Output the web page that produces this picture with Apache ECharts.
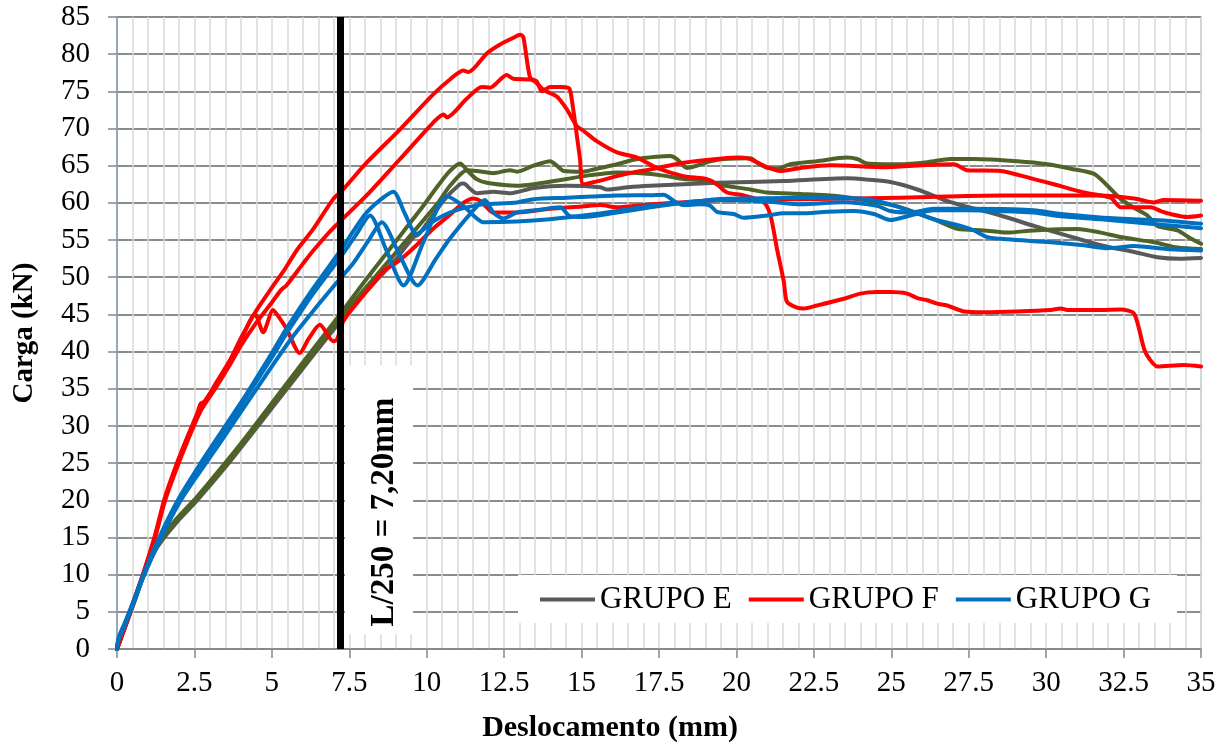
<!DOCTYPE html>
<html>
<head>
<meta charset="utf-8">
<script src="https://cdn.jsdelivr.net/npm/echarts/dist/echarts.min.js"></script>
<style>html,body{margin:0;padding:0;background:#fff}#c{width:1228px;height:748px}</style>
</head>
<body>
<div id="c"></div>
<script>
// ---- data (Deslocamento mm, Carga kN) ----
const grupoE_cinza = [[0,0],[0.3,3.4],[0.6,6.8],[0.85,9.8],[1.2,13],[1.45,14.6],[1.92,17],[2.57,19.9],[3.53,24.6],[4.29,28.6],[5.04,32.6],[5.9,37.2],[7.2,44],[8.0,47.9],[9.0,52.4],[9.57,55.4],[9.75,55.8],[10.0,57.2],[10.54,60.3],[11.07,62.5],[11.2,62.6],[11.4,61.9],[11.61,61.3],[12.15,61.5],[12.69,61.3],[13.45,62.0],[14.52,62.3],[15.6,62.1],[15.82,61.8],[16.5,62.1],[17.22,62.3],[18.3,62.5],[19.37,62.7],[21.53,62.95],[23.57,63.3],[24.3,63.1],[24.97,62.8],[25.84,61.8],[26.91,60.1],[28.53,58.3],[29.61,56.9],[30.68,55.6],[31.76,54.3],[32.84,53.4],[33.59,52.7],[34.3,52.5],[35,52.6]];
const grupoE_verde1 = [[0,0],[0.3,3.5],[0.6,7],[0.85,10],[1.2,13.3],[1.45,15],[1.92,17.5],[2.57,20.4],[3.53,25.2],[4.29,29.2],[5.04,33.3],[5.9,38],[7.2,45],[8.06,49.8],[8.92,54.4],[9.78,59],[10.4,62.5],[10.75,64.3],[11.08,65.3],[11.3,64.4],[11.61,63.2],[11.94,62.7],[12.5,62.4],[12.91,62.3],[13.45,62.5],[14.52,63.2],[15.06,63.6],[16.14,64.1],[17.22,63.9],[17.76,63.6],[18.29,63.2],[19.16,63.0],[19.37,62.5],[20.45,61.8],[20.99,61.4],[22.07,61.2],[23.14,60.95],[24.22,60.3],[25.3,59.4],[26.37,57.8],[27.13,56.5],[27.99,56.3],[28.74,56.0],[29.6,56.3],[31.01,56.5],[31.76,56.0],[32.41,55.4],[33.49,54.7],[34.24,54.0],[35,53.8]];
const grupoE_verde2 = [[0,0],[0.3,3.4],[0.6,6.9],[0.85,9.9],[1.2,13.1],[1.45,14.8],[1.92,17.2],[2.57,20.1],[3.53,24.8],[4.29,28.8],[5.04,32.9],[5.9,37.5],[7.2,44.5],[8.1,48.9],[9.0,53.3],[9.9,57.7],[10.4,60.2],[10.75,62.3],[11.3,64.4],[11.61,64.3],[12.15,64.0],[12.69,64.4],[12.91,64.2],[13.45,65.0],[13.99,65.6],[14.2,65.0],[14.42,64.3],[15.06,64.2],[15.39,64.5],[16.14,65.2],[16.79,65.9],[17.43,66.2],[17.86,66.3],[18.08,65.9],[18.4,64.7],[18.72,65.0],[19.16,65.6],[19.59,65.9],[20.45,66.0],[20.67,65.4],[20.99,64.7],[21.31,64.6],[21.74,65.2],[22.6,65.6],[23.57,66.1],[23.9,65.9],[24.22,65.3],[25.3,65.2],[26.2,65.5],[26.91,65.9],[27.67,65.9],[29.07,65.6],[30.04,65.2],[30.8,64.6],[31.55,63.9],[31.98,62.3],[32.41,60.5],[32.85,59.3],[33.27,58.3],[33.59,56.9],[34.24,56.3],[34.67,55.2],[35,54.5]];
const grupoF_1 = [[0,0],[0.3,3.6],[0.6,7.2],[0.85,10.2],[1.22,15.2],[1.54,20.3],[1.9,24.6],[2.3,28.8],[2.6,31.8],[2.7,33],[2.85,33.3],[3.2,35.8],[3.64,38.8],[4.0,41.8],[4.45,45.2],[5.0,48.6],[5.42,51.1],[5.8,53.6],[6.34,56.5],[6.98,60.5],[7.3,61.8],[8.06,65.4],[9.14,69.9],[10.21,74.6],[10.75,76.6],[11.18,77.8],[11.35,77.6],[11.94,80.1],[12.37,81.3],[12.8,82.2],[13.02,82.6],[13.12,82.3],[13.34,76.8],[13.55,76.35],[13.72,75.0],[13.98,75.6],[14.3,75.6],[14.58,75.45],[14.65,74.8],[14.79,70.8],[14.95,65.9],[15.06,62.5],[15.6,63.0],[16.14,63.6],[16.68,64.1],[17.22,64.5],[18.3,65.4],[19.37,65.9],[20.13,66.1],[20.45,65.9],[20.88,65.0],[21.42,64.3],[22.07,64.7],[23.03,65.06],[24.87,64.8],[26.16,65.1],[27.02,65.2],[27.45,64.4],[28.53,64.3],[29.6,63.2],[30.25,62.5],[31.22,61.4],[32.08,60.7],[32.41,59.4],[33.38,59.4],[33.7,58.9],[34.02,58.5],[34.56,58.1],[35,58.3]];
const grupoF_2 = [[0,0],[0.3,3.5],[0.6,7.0],[0.85,10],[1.22,14.8],[1.54,19.8],[1.9,24.0],[2.3,28.2],[2.7,32],[3.2,35.2],[3.64,38.2],[4.0,40.8],[4.5,43.9],[5.0,46.6],[5.3,48.3],[5.47,48.9],[6.0,51.8],[6.34,53.6],[6.98,56.6],[8.06,61.0],[9.14,65.9],[10.21,70.8],[10.54,71.9],[10.65,71.5],[11.29,74.0],[11.78,75.6],[12.05,75.5],[12.58,77.2],[12.8,76.7],[13.34,76.6],[13.5,76.3],[13.77,75.2],[14.2,74.3],[14.52,72.6],[14.85,70.3],[15.06,69.7],[15.49,68.3],[16.14,66.8],[16.79,66.1],[17.43,64.7],[18.29,63.6],[19.05,63.2],[19.37,62.5],[19.7,61.4],[20.23,61.0],[20.88,60.1],[21.1,58.3],[21.31,53.8],[21.53,49.4],[21.63,46.7],[21.96,45.9],[22.17,45.8],[22.6,46.2],[23.47,47.1],[24.0,47.8],[24.54,48.0],[24.97,48.0],[25.51,47.8],[25.84,47.2],[26.16,46.9],[26.48,46.45],[26.8,46.2],[27.34,45.4],[27.99,45.3],[29.07,45.4],[30.15,45.6],[30.47,45.8],[30.68,45.6],[31.76,45.6],[32.41,45.65],[32.84,45.1],[33.16,40.4],[33.32,39.1],[33.59,38.0],[34.45,38.2],[35,38.0]];
const grupoF_3 = [[0,0],[0.3,3.6],[0.6,7.1],[0.85,10.1],[1.22,15],[1.54,20],[1.9,24.4],[2.3,28.6],[2.7,32.4],[3.2,35.6],[3.64,38.6],[4.0,41.5],[4.3,44.2],[4.45,45.1],[4.72,42.6],[5.04,45.6],[5.2,44.8],[5.47,43.1],[5.9,39.8],[6.2,41.8],[6.55,43.6],[6.98,41.4],[7.1,41.6],[7.31,44.1],[7.8,46.8],[8.3,49.3],[8.6,50.8],[9.1,52.2],[9.67,54.3],[10.2,56.5],[10.75,58.4],[11.18,60.0],[11.51,60.6],[11.72,60.3],[11.94,59.4],[12.15,58.7],[12.91,58.7],[13.98,59.2],[15.0,59.5],[15.6,59.7],[16.14,59.4],[17.22,59.8],[18.3,60.1],[19.37,60.4],[22.07,60.5],[25.3,60.7],[28.53,61.0],[31.76,61.0],[32.84,60.6],[33.48,60.06],[33.8,60.4],[35,60.3]];
const grupoG_1 = [[0,0],[0.05,1.5],[0.3,4],[0.6,7.2],[0.85,10],[1.43,15.6],[2.03,20.5],[2.67,24.8],[3.32,28.9],[4.18,34.3],[5.0,39.8],[5.47,43.1],[6.3,48.3],[7.2,53.5],[8.0,58.4],[8.5,60.4],[8.92,61.5],[9.3,58.5],[9.67,55.8],[10.2,57.5],[10.75,58.7],[11.29,59.4],[11.83,59.8],[12.91,60.06],[13.45,60.5],[14.52,60.7],[16.14,61.0],[17.22,61.04],[17.65,61.1],[17.97,60.3],[18.29,59.7],[18.83,59.8],[19.16,59.6],[19.37,58.8],[19.91,58.5],[20.23,58.0],[20.99,58.3],[21.53,58.6],[22.07,58.6],[22.93,58.8],[23.79,58.9],[24.44,58.5],[24.97,57.7],[25.62,58.3],[26.37,59.0],[27.45,59.0],[28.5,58.9],[29.6,58.7],[30.47,58.2],[31.76,57.8],[32.84,57.4],[33.9,57.0],[35,56.6]];
const grupoG_2 = [[0,0],[0.05,1.3],[0.3,3.8],[0.6,7.0],[0.85,9.8],[1.43,15.3],[2.03,20.2],[2.67,24.4],[3.32,28.4],[4.18,33.9],[5.0,39.2],[5.5,42.6],[6.3,47.6],[7.2,52.6],[7.7,55.6],[8.17,58.3],[8.7,53.6],[9.25,48.9],[9.9,54.8],[10.65,60.9],[11.18,59.6],[11.51,58.3],[11.83,57.4],[12.91,57.5],[13.98,57.8],[15.06,58.3],[16.14,58.9],[17.22,59.6],[18.3,60.0],[19.37,60.5],[20.5,60.6],[22.07,60.7],[23.14,60.7],[24.22,60.5],[24.97,59.8],[25.62,58.9],[26.37,57.8],[27.24,56.9],[27.67,56.3],[28.1,55.4],[28.74,55.1],[30.15,54.7],[31.22,54.3],[31.98,53.9],[32.84,54.2],[33.9,53.8],[35,53.6]];
const grupoG_3 = [[0,0],[0.05,1.2],[0.3,3.7],[0.6,6.9],[0.85,9.7],[1.43,15.0],[2.03,19.8],[2.67,23.8],[3.32,27.7],[4.18,33.0],[5.0,38.0],[5.6,41.6],[6.4,45.8],[7.2,49.8],[7.63,51.9],[8.1,54.8],[8.55,57.4],[9.1,53.2],[9.7,48.9],[10.3,52.5],[10.75,55.2],[11.4,58.5],[11.88,60.4],[12.15,58.7],[12.48,57.9],[12.91,58.7],[13.5,59.0],[14.31,59.4],[14.63,58.2],[15.06,58.1],[16.14,58.7],[17.22,59.4],[18.29,60.0],[19.37,60.4],[21.0,60.2],[22.07,59.8],[23.47,60.1],[24.54,59.6],[24.97,58.9],[25.62,58.7],[26.37,59.2],[27.45,59.2],[29.6,59.0],[30.47,58.5],[31.76,58.05],[32.84,57.8],[33.9,57.6],[35,57.2]];

const legendNames = ['GRUPO E', 'GRUPO F', 'GRUPO G'];
const limiteL250 = 7.2;                 // mm
const limiteTexto = 'L/250 = 7,20mm';
const caixaX = [7.36, 9.56];            // annotation box (data units)
const caixaY = [2.0, 38.15];
const textoPos = [8.62, 18.4];

const FONT = '"Liberation Serif","Times New Roman",serif';
const chart = echarts.init(document.getElementById('c'));

function ser(name, data, color) {
  return {
    name, type: 'line', data, symbol: 'none', showSymbol: false,
    smooth: 0.25,
    lineStyle: { color, width: 4, cap: 'round', join: 'round' }, itemStyle: { color },
    animation: false
  };
}
const series = [
  ser('GRUPO E', grupoE_cinza, '#595959'),
  ser('E-2', grupoE_verde1, '#4f6228'),
  ser('E-3', grupoE_verde2, '#4f6228'),
  ser('GRUPO F', grupoF_1, '#ff0000'),
  ser('GRUPO F', grupoF_2, '#ff0000'),
  ser('GRUPO F', grupoF_3, '#ff0000'),
  ser('GRUPO G', grupoG_1, '#0070c0'),
  ser('GRUPO G', grupoG_2, '#0070c0'),
  ser('GRUPO G', grupoG_3, '#0070c0')
];
series[series.length - 1].markLine = {
  silent: true, symbol: ['none', 'none'], label: { show: false },
  lineStyle: { color: '#000', width: 7, type: 'solid' },
  data: [{ xAxis: limiteL250 }], animation: false
};

chart.setOption({
  backgroundColor: '#fff',
  animation: false,
  grid: { left: 117, right: 27, top: 17, bottom: 96, show: true, borderColor: '#9dc3e6', borderWidth: 1.5 },
  legend: {
    data: legendNames, left: 518, top: 575, backgroundColor: '#fff',
    padding: [9, 26, 8, 22], itemWidth: 55, itemHeight: 4, itemGap: 17, icon: 'rect',
    textStyle: { fontFamily: FONT, fontSize: 31, color: '#000' }
  },
  xAxis: {
    type: 'value', min: 0, max: 35, interval: 2.5,
    name: 'Deslocamento (mm)', nameLocation: 'middle', nameGap: 64,
    nameTextStyle: { fontFamily: FONT, fontSize: 30, fontWeight: 'bold', color: '#000', padding: [0, 98, 0, 0] },
    axisLine: { show: true, lineStyle: { color: '#868686', width: 1.5 } },
    axisTick: { show: true, inside: false, length: 9, lineStyle: { color: '#868686', width: 1.5 } },
    axisLabel: { fontFamily: FONT, fontSize: 29, color: '#000', margin: 20 },
    splitLine: { show: true, lineStyle: { color: '#d9d9d9', width: 1.5 } },
    minorTick: { show: false, splitNumber: 5 },
    minorSplitLine: { show: true, lineStyle: { color: '#d9d9d9', width: 1.5 } }
  },
  yAxis: {
    type: 'value', min: 0, max: 85, interval: 5,
    name: 'Carga (kN)', nameLocation: 'middle', nameGap: 78,
    nameTextStyle: { fontFamily: FONT, fontSize: 29, fontWeight: 'bold', color: '#000' },
    axisLine: { show: true, lineStyle: { color: '#8497b0', width: 1.5 } },
    axisTick: { show: true, inside: false, length: 9, lineStyle: { color: '#868686', width: 1.5 } },
    axisLabel: { fontFamily: FONT, fontSize: 29, color: '#000', margin: 27 },
    splitLine: { show: true, lineStyle: { color: '#8c8c8c', width: 2 } }
  },
  series
});

const a = chart.convertToPixel({ gridIndex: 0 }, [caixaX[0], caixaY[1]]);
const b = chart.convertToPixel({ gridIndex: 0 }, [caixaX[1], caixaY[0]]);
const t = chart.convertToPixel({ gridIndex: 0 }, textoPos);
chart.setOption({
  graphic: [
    { type: 'rect', silent: true, z: 1, shape: { x: a[0], y: a[1], width: b[0] - a[0], height: b[1] - a[1] }, style: { fill: '#fff' } },
    { type: 'text', silent: true, z: 1, x: t[0], y: t[1], rotation: Math.PI / 2,
      style: { text: limiteTexto, fontFamily: FONT, fontSize: 33, fontWeight: 'bold', fill: '#000', align: 'center', verticalAlign: 'middle' } }
  ]
});
</script>
</body>
</html>
